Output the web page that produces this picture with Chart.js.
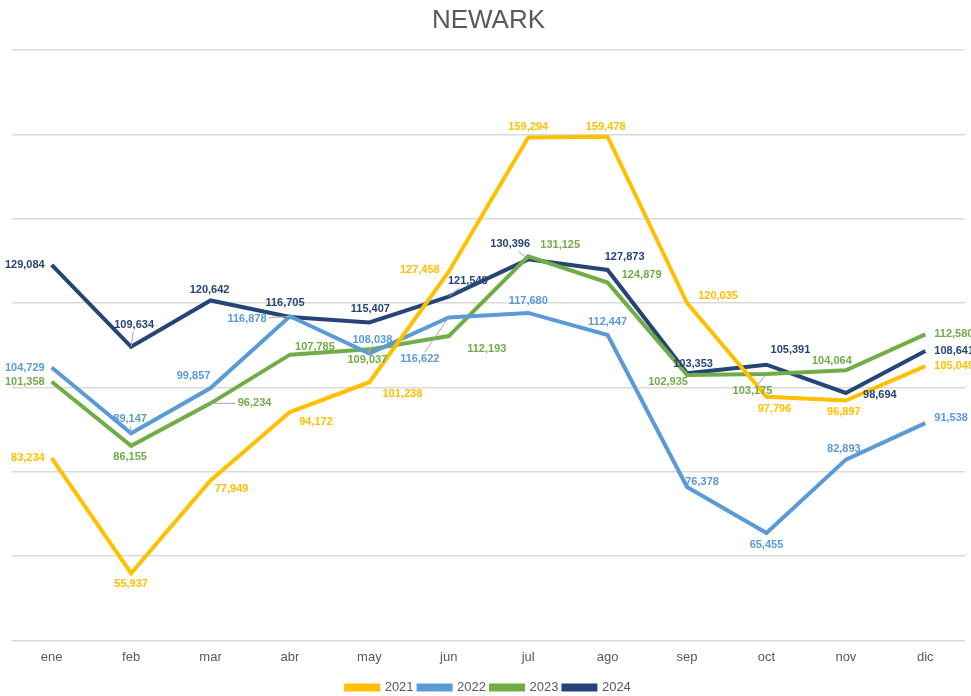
<!DOCTYPE html>
<html>
<head>
<meta charset="utf-8">
<script src="https://cdn.jsdelivr.net/npm/chart.js@4.4.1/dist/chart.umd.min.js"></script>
<style>
  html, body { margin: 0; padding: 0; background: #fff; }
  #wrap { width: 971px; height: 696px; position: relative; }
</style>
</head>
<body>
<div id="wrap"><canvas id="lineChart"></canvas></div>
<script>
var months = ['ene', 'feb', 'mar', 'abr', 'may', 'jun', 'jul', 'ago', 'sep', 'oct', 'nov', 'dic'];
var years = ['2021', '2022', '2023', '2024'];

var data2021 = [83234, 55937, 77949, 94172, 101238, 127458, 159294, 159478, 120035, 97796, 96897, 105049];
var data2022 = [104729, 89147, 99857, 116878, 108038, 116622, 117680, 112447, 76378, 65455, 82893, 91538];
var data2023 = [101358, 86155, 96234, 107785, 109037, 112193, 131125, 124879, 102935, 103175, 104064, 112580];
var data2024 = [129084, 109634, 120642, 116705, 115407, 121548, 130396, 127873, 103353, 105391, 98694, 108641];

var colors = ['#FFC000', '#5B9BD5', '#70AD47', '#264478'];

// label offsets from each point: [dx, dy, leader line?]
var labelPos = [
    [[-7, 0], [0, 11], [21, 9], [26, 10], [33, 12], [-29, -2], [0, -11], [-2, -10], [31, -7], [8, 12], [-2, 11], [9, 0]],
    [[-7, 0], [-1, -14, 1], [-17, -12], [-43, 3, 1], [3, -14, 1], [-29, 42, 1], [0, -12], [0, -13], [15, -5], [0, 12], [-2, -11], [9, -5]],
    [[-7, 0], [-1, 11], [44, 0, 1], [25, -8], [-2, 11, 1], [38, 13], [32, -11], [34, -8], [-19, 7], [-14, 17, 1], [-14, -9], [9, 0]],
    [[-7, 0], [3, -22, 1], [-1, -10], [-5, -14], [1, -14], [19, -16, 1], [-18, -15, 1], [17, -13], [6, -9], [24, -15], [34, 2], [9, 0]]
];

var labelPlugin = {
    id: 'pointLabels',
    afterDatasetsDraw: function (chart) {
        var ctx = chart.ctx;
        ctx.save();
        ctx.font = 'bold 11px "Liberation Sans", Arial, sans-serif';
        ctx.textBaseline = 'middle';
        chart.data.datasets.forEach(function (ds, di) {
            var meta = chart.getDatasetMeta(di);
            meta.data.forEach(function (pt, i) {
                var off = labelPos[di][i];
                var text = ds.data[i].toLocaleString('en-US');
                var w = ctx.measureText(text).width;
                var cx = pt.x + off[0];
                var cy = pt.y + off[1];
                if (i === 0) cx -= w / 2;
                else if (i === months.length - 1) cx += w / 2;
                if (off[2]) {
                    // short grey leader from the point to the label box
                    var hw = w / 2 + 2, hh = 7;
                    var vx = pt.x - cx, vy = pt.y - cy;
                    var t = Math.min(hw / Math.abs(vx || 1e-6), hh / Math.abs(vy || 1e-6));
                    if (t < 1) {
                        ctx.strokeStyle = '#a6a6a6';
                        ctx.lineWidth = 1;
                        ctx.beginPath();
                        ctx.moveTo(pt.x, pt.y);
                        ctx.lineTo(cx + vx * t, cy + vy * t);
                        ctx.stroke();
                    }
                }
                ctx.fillStyle = colors[di];
                ctx.textAlign = 'center';
                ctx.fillText(text, cx, cy);
            });
        });
        ctx.restore();
    }
};

var ctxLineChart = document.getElementById('lineChart').getContext('2d');
var lineChart = new Chart(ctxLineChart, {
    type: 'line',
    data: {
        labels: months,
        datasets: [data2021, data2022, data2023, data2024].map(function (d, i) {
            return {
                label: years[i],
                data: d,
                borderColor: colors[i],
                backgroundColor: colors[i],
                borderWidth: 4,
                pointRadius: 0,
                tension: 0,
                fill: false
            };
        })
    },
    options: {
        responsive: true,
        maintainAspectRatio: false,
        animation: false,
        layout: { padding: { left: 12, right: 6, top: 0, bottom: -8 } },
        scales: {
            x: {
                offset: true,
                grid: { display: false, drawTicks: false },
                border: { display: false },
                ticks: {
                    padding: 9,
                    color: '#595959',
                    font: { family: '"Liberation Sans", Arial, sans-serif', size: 13 }
                },
                afterFit: function (scale) { scale.height += 2; }
            },
            y: {
                min: 40000,
                max: 180000,
                ticks: { display: false, stepSize: 20000 },
                grid: { color: '#d9d9d9', lineWidth: 1.5, drawTicks: false },
                border: { display: false }
            }
        },
        plugins: {
            title: {
                display: true,
                text: 'NEWARK',
                color: '#595959',
                font: { family: '"Liberation Sans", Arial, sans-serif', size: 26, weight: 'normal' },
                padding: { top: 5, bottom: 14 }
            },
            legend: {
                position: 'bottom',
                labels: {
                    boxWidth: 32,
                    boxHeight: 4,
                    padding: 5,
                    color: '#595959',
                    font: { family: '"Liberation Sans", Arial, sans-serif', size: 13 }
                }
            },
            tooltip: { enabled: false }
        }
    },
    plugins: [labelPlugin]
});
</script>
</body>
</html>
